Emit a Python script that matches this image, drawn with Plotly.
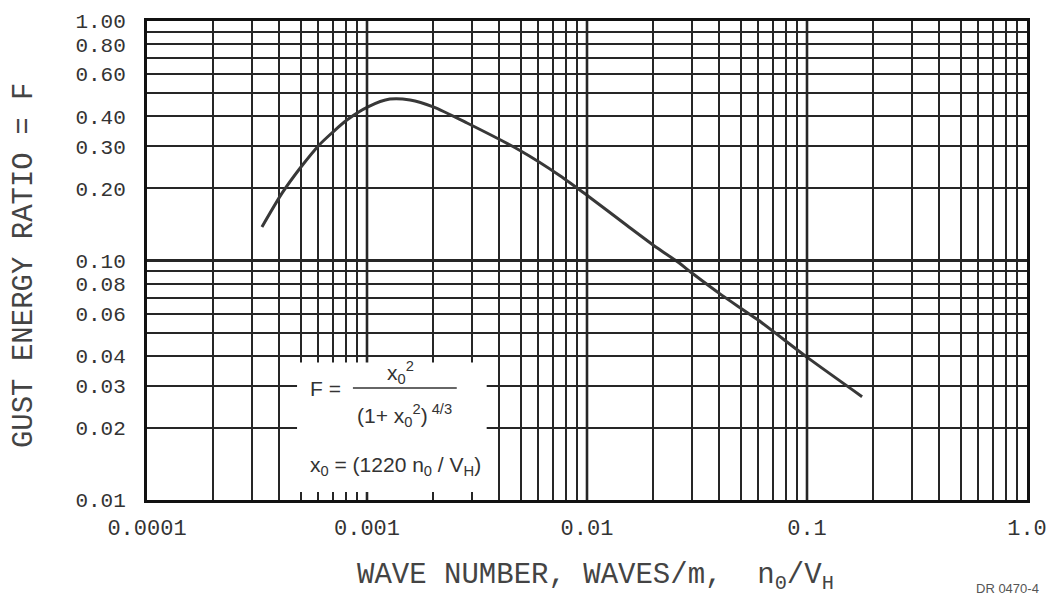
import plotly.graph_objects as go

# ---------------- data ----------------
WAVE_NUMBER = [3.33e-4, 4.11e-4, 5.0e-4, 6.05e-4, 7.0e-4, 8.1e-4, 1.01e-3, 1.27e-3,
               1.57e-3, 2.0e-3, 2.85e-3, 4.96e-3, 7.54e-3, 0.0101, 0.0152, 0.0208,
               0.0257, 0.0303, 0.0411, 0.0593, 0.101, 0.178]
GUST_RATIO = [0.138, 0.191, 0.245, 0.303, 0.344, 0.386, 0.438, 0.472,
              0.468, 0.438, 0.375, 0.288, 0.226, 0.186, 0.140, 0.113,
              0.099, 0.088, 0.0715, 0.0568, 0.0392, 0.0270]

X_DECADES = [1e-4, 1e-3, 1e-2, 1e-1, 1.0]
X_DECADE_LABELS = ["0.0001", "0.001", "0.01", "0.1", "1.0"]
Y_DECADES = [0.01, 0.1, 1.0]
Y_LABELLED = {0.01: "0.01", 0.02: "0.02", 0.03: "0.03", 0.04: "0.04", 0.06: "0.06",
              0.08: "0.08", 0.1: "0.10", 0.2: "0.20", 0.3: "0.30", 0.4: "0.40",
              0.6: "0.60", 0.8: "0.80", 1.0: "1.00"}

# ---------------- grid values (log paper) ----------------
def log_paper(decades):
    vals = []
    for d in decades[:-1]:
        for m in range(1, 10):
            vals.append(round(d * m, 10))
    vals.append(decades[-1])
    return vals

xgrid = log_paper(X_DECADES)
ygrid = log_paper(Y_DECADES)
xtext = [X_DECADE_LABELS[X_DECADES.index(v)] if v in X_DECADES else "" for v in xgrid]
ytext = [Y_LABELLED.get(v, "") for v in ygrid]

INK = "#262626"
MONO = "Liberation Mono"
SANS = "Liberation Sans"

fig = go.Figure()
fig.add_trace(go.Scatter(
    x=WAVE_NUMBER, y=GUST_RATIO, mode="lines",
    line=dict(color="#383838", width=3, shape="spline", smoothing=0.7),
    hoverinfo="x+y", showlegend=False))

shapes = []
# heavier decade lines
for v in X_DECADES[1:-1]:
    shapes.append(dict(type="line", xref="x", yref="paper", x0=v, x1=v, y0=0, y1=1,
                       line=dict(color=INK, width=2.6), layer="above"))
shapes.append(dict(type="line", xref="paper", yref="y", x0=0, x1=1, y0=0.1, y1=0.1,
                   line=dict(color=INK, width=3), layer="above"))
# white panel for the formula (covers the grid)
shapes.append(dict(type="rect", xref="paper", yref="paper",
                   x0=0.1705, x1=0.386, y0=0.0167, y1=0.287,
                   fillcolor="white", line=dict(width=0), layer="above"))
# fraction bar
shapes.append(dict(type="line", xref="paper", yref="paper",
                   x0=0.234, x1=0.352, y0=0.2338, y1=0.2338,
                   line=dict(color="#333", width=1.6), layer="above"))

ftxt = dict(family=SANS, size=21, color="#333")
annotations = [
    dict(text="F =", x=0.2023, y=0.2338, font=ftxt),
    dict(text="x<sub>0</sub><sup>2</sup>", x=0.2875, y=0.266, font=ftxt),
    dict(text="(1+ x<sub>0</sub><sup>2</sup>)<sup> 4/3</sup>", x=0.293, y=0.177, font=ftxt),
    dict(text="x<sub>0</sub> = (1220 n<sub>0</sub> / V<sub>H</sub>)", x=0.282, y=0.072, font=ftxt),
    dict(text="GUST ENERGY RATIO = F", textangle=-90, x=-0.140, y=0.49,
         font=dict(family=MONO, size=29, color="#444")),
    dict(text="WAVE NUMBER, WAVES/m,  n<sub>0</sub>/V<sub>H</sub>", x=0.51, y=-0.16,
         font=dict(family=MONO, size=29, color="#444")),
    dict(text="DR 0470-4", x=0.978, y=-0.185, font=dict(family=SANS, size=13, color="#555")),
]
for a in annotations:
    a.update(xref="paper", yref="paper", showarrow=False, xanchor="center", yanchor="middle")

fig.update_layout(
    width=1061, height=606,
    margin=dict(l=147, r=34, t=21, b=106),
    paper_bgcolor="white", plot_bgcolor="white",
    shapes=shapes, annotations=annotations, showlegend=False,
    xaxis=dict(type="log", range=[-4, 0], tickmode="array", tickvals=xgrid, ticktext=xtext,
               showgrid=True, gridcolor=INK, gridwidth=1.5, ticks="",
               ticklabelstandoff=6,
               tickfont=dict(family=MONO, size=22, color="#333"),
               showline=True, linecolor="#111", linewidth=3, mirror=True, zeroline=False),
    yaxis=dict(type="log", range=[-2, 0], tickmode="array", tickvals=ygrid, ticktext=ytext,
               showgrid=True, gridcolor=INK, gridwidth=1.5, ticks="",
               ticklabelstandoff=14,
               tickfont=dict(family=MONO, size=21, color="#333"),
               showline=True, linecolor="#111", linewidth=3, mirror=True, zeroline=False),
)

# remove the page's default body margin so the figure sits at the window's corner
fig.write_html("out.html", config={"displayModeBar": False},
               post_script="document.body.style.margin='0';")
